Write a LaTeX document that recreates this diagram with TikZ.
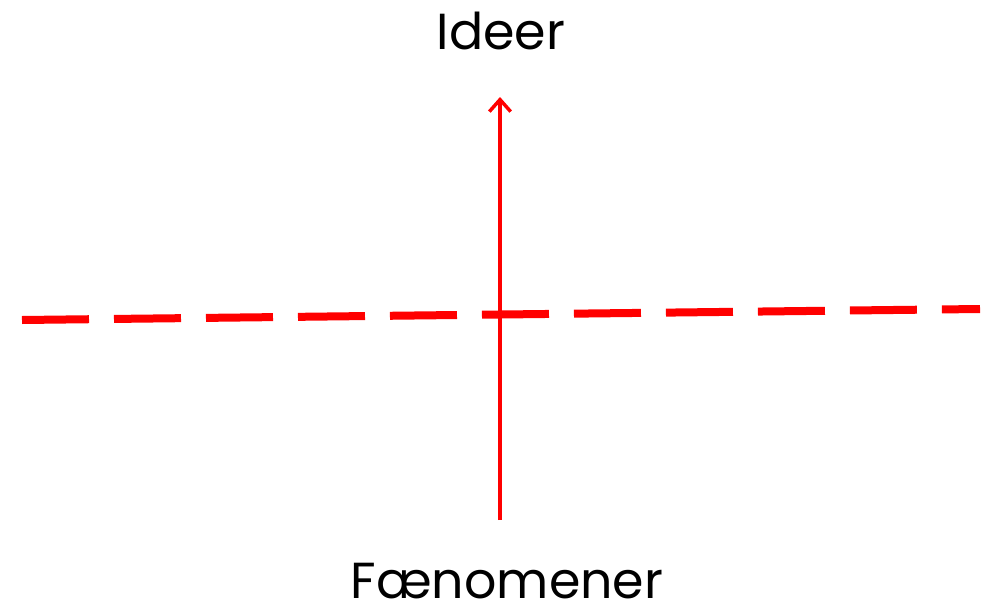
\documentclass[tikz,border=0pt]{standalone}
\usepackage{fontspec}
\setmainfont{Poppins}
\usetikzlibrary{arrows.meta}
\definecolor{LinjeRoed}{RGB}{255,0,0}
\tikzset{
  ordstil/.style={font=\fontsize{38}{46}\selectfont, text=black, inner sep=0pt, anchor=base},
  pil/.style={-{Straight Barb[length=9pt, width=16pt, line width=2.6pt]}, line width=2.6pt, LinjeRoed},
  graense/.style={LinjeRoed, line width=6pt, dash pattern=on 50.25pt off 18.75pt},
}

\begin{document}
\begin{tikzpicture}[x=0.75pt, y=-0.75pt]
  \useasboundingbox (0,0) rectangle (987,610);

  % tekster
  \node[ordstil] (ideer) at (501,50) {Ideer};
  \node[ordstil] (faen) at (507,598) {Fænomener};

  % skillelinje
  \coordinate (venstre) at (22,320);
  \coordinate (hoejre) at (980,309);
  \draw[graense] (venstre) -- (hoejre);

  % pil op
  \coordinate (pilbund) at (500,520);
  \coordinate (piltop) at (500,97);
  \draw[pil] (pilbund) -- (piltop);
\end{tikzpicture}
\end{document}
